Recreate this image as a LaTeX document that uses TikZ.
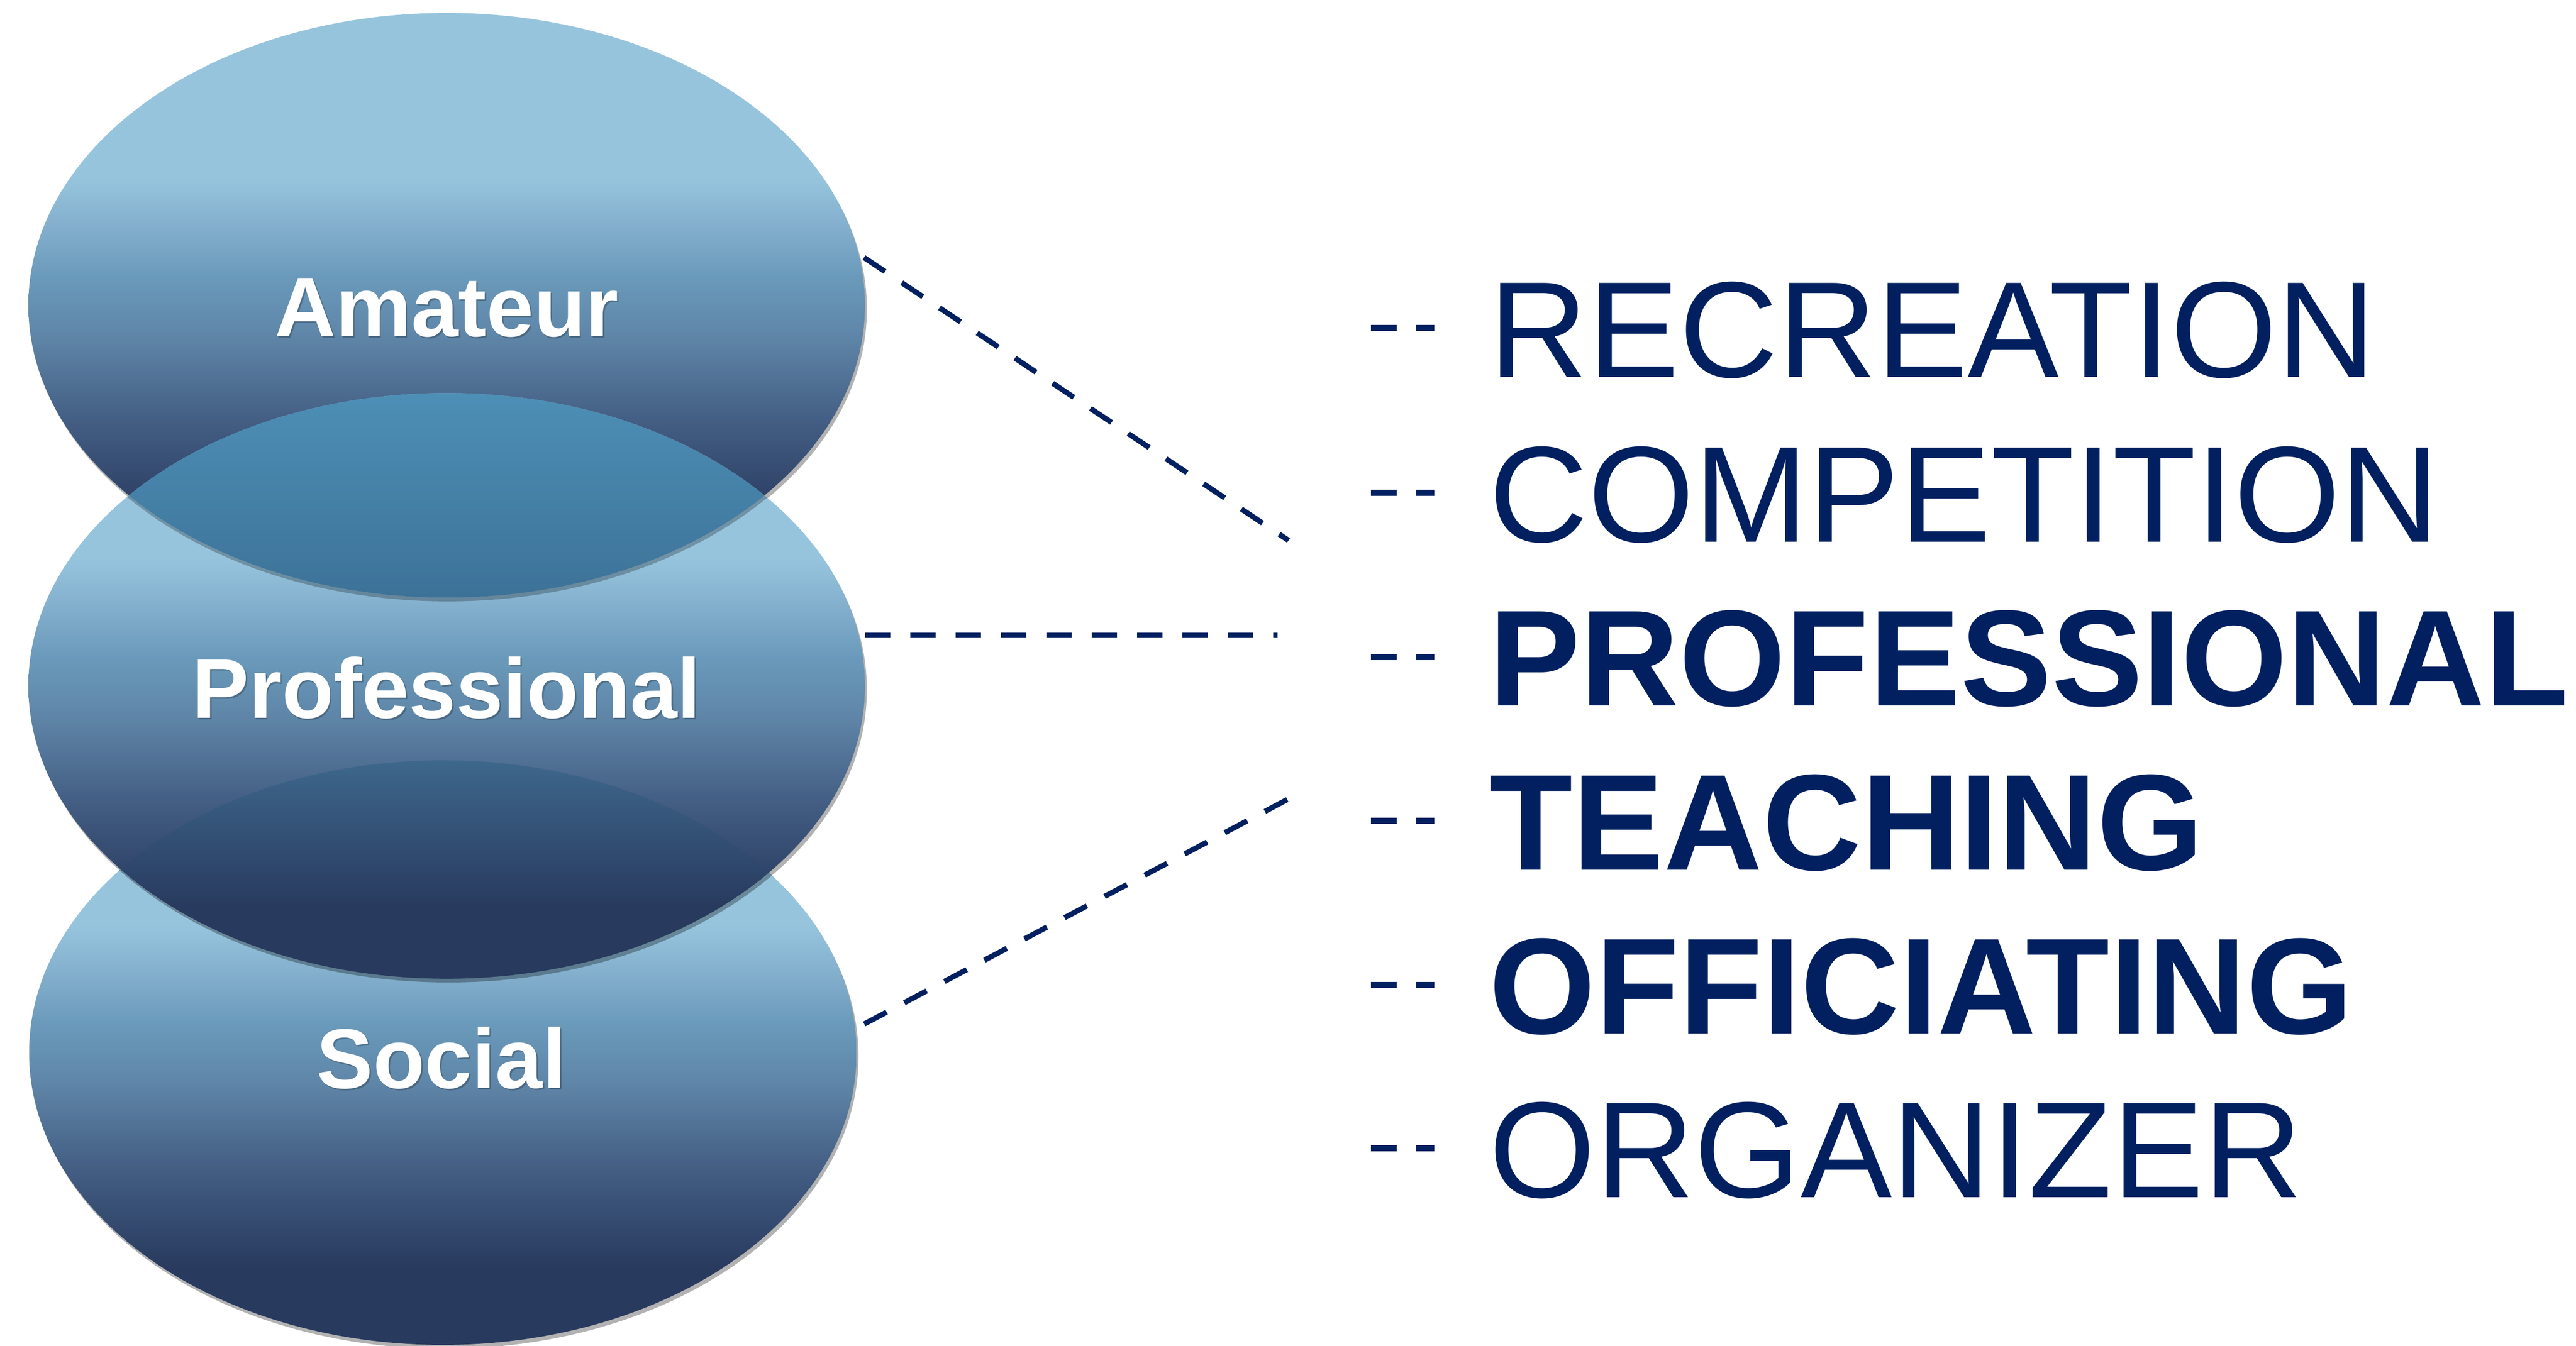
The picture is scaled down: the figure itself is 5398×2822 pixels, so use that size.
\documentclass[tikz,border=0pt]{standalone}
\usepackage{fontspec}
\setmainfont{Liberation Sans}
\usetikzlibrary{shapes.geometric,shadows}
\definecolor{navy}{RGB}{2,32,96}
\definecolor{dk}{HTML}{283A5E}
\definecolor{ca}{HTML}{435D83}
\definecolor{cb}{HTML}{5F86A8}
\definecolor{cc}{HTML}{6A9ABB}
\definecolor{cd}{HTML}{7DA9C8}
\definecolor{lt}{HTML}{97C4DD}
\definecolor{ova}{HTML}{4D8FB6}
\definecolor{ovb}{HTML}{3D7298}
\definecolor{ovc}{HTML}{3E678C}
\pgfdeclareverticalshading{ballshade}{100bp}{color(0bp)=(dk); color(31.5bp)=(dk); color(40bp)=(ca); color(47.5bp)=(cb); color(52.5bp)=(cc); color(55.5bp)=(cd); color(61bp)=(lt); color(100bp)=(lt)}
\pgfdeclareverticalshading{ovlshadeA}{100bp}{color(0bp)=(ovb); color(57.6bp)=(ovb); color(75bp)=(ova); color(100bp)=(ova)}
\pgfdeclareverticalshading{ovlshadeB}{100bp}{color(0bp)=(dk); color(31bp)=(dk); color(43.6bp)=(ovc); color(100bp)=(ovc)}
\begin{document}
\begin{tikzpicture}[x=0.01cm,y=-0.01cm,
  ball/.style={ellipse, draw=none, inner sep=0pt, outer sep=0pt, shading=ballshade,
    drop shadow={shadow xshift=0.04cm, shadow yshift=-0.08cm, opacity=0.3, fill=black}},
  lbl/.style={text=white, font=\bfseries\fontsize{50.5pt}{60pt}\selectfont, inner sep=0pt, anchor=base},
  lblsh/.style={lbl, text=black, text opacity=0.22},
  item/.style={text=navy, font=\fontsize{81.5pt}{90pt}\selectfont, inner sep=0pt, anchor=base west},
  itemb/.style={item, font=\bfseries\fontsize{81.5pt}{90pt}\selectfont},
  conn/.style={draw=navy, line width=0.11cm, dash pattern=on 0.53cm off 0.42cm},
  bul/.style={draw=navy, line width=0.13cm, dash pattern=on 0.54cm off 0.41cm on 0.37cm off 3cm}]
\useasboundingbox (0,0) rectangle (5398,2822);
\fill[white] (0,0) rectangle (5398,2822);

% ellipses
\node[ball, minimum width=17.33cm, minimum height=12.25cm] (so) at (928,2207) {};
\node[ball, minimum width=17.52cm, minimum height=12.25cm] (am) at (936,640) {};
\node[ball, minimum width=17.52cm, minimum height=12.27cm] (pro) at (936,1438) {};

% overlap amateur / professional
\begin{scope}
  \clip (am.center) ellipse [x radius=8.76cm, y radius=6.125cm];
  \shade[shading=ovlshadeA] (pro.center) ellipse [x radius=8.76cm, y radius=6.135cm];
\end{scope}
% shadow of amateur's lower edge onto professional
\begin{scope}
  \clip (pro.center) ellipse [x radius=8.76cm, y radius=6.135cm];
  \fill[black, opacity=0.25, even odd rule]
    ([xshift=0.02cm, yshift=-0.08cm]am.center) ellipse [x radius=8.76cm, y radius=6.125cm]
    (am.center) ellipse [x radius=8.76cm, y radius=6.125cm];
\end{scope}
% overlap professional / social
\begin{scope}
  \clip (so.center) ellipse [x radius=8.665cm, y radius=6.125cm];
  \shade[shading=ovlshadeB] (pro.center) ellipse [x radius=8.76cm, y radius=6.135cm];
\end{scope}

% labels in ellipses
\node[lblsh] (amS) at (939,709) {Amateur};
\node[lbl] (amL) at (936,706) {Amateur};
\node[lblsh] (proS) at (939,1509) {Professional};
\node[lbl] (proL) at (936,1506) {Professional};
\node[lblsh] (soS) at (928,2285) {Social};
\node[lbl] (soL) at (925,2282) {Social};

% list on the right
\node[item]  (rec)  at (3120,791)  {RECREATION};
\node[item]  (com)  at (3120,1136) {COMPETITION};
\node[itemb] (prof) at (3120,1480) {PROFESSIONAL};
\node[itemb] (tea)  at (3120,1824) {TEACHING};
\node[itemb] (off)  at (3120,2167) {OFFICIATING};
\node[item]  (org)  at (3120,2511) {ORGANIZER};

% bullets
\foreach \yy in {688,1033,1378,1721,2065,2408}
  \draw[bul] (2873,\yy) -- (3006,\yy);

% connectors
\coordinate (c1e) at (2700,1133);
\coordinate (c2e) at (2677,1332);
\coordinate (c3e) at (2700,1675);
\draw[conn] ([xshift=-0.02cm, yshift=1.0cm]am.east) -- (c1e);
\draw[conn] ([yshift=1.06cm]pro.east) -- (c2e);
\draw[conn] ([xshift=0.16cm, yshift=0.6cm]so.east) -- (c3e);
\end{tikzpicture}
\end{document}
